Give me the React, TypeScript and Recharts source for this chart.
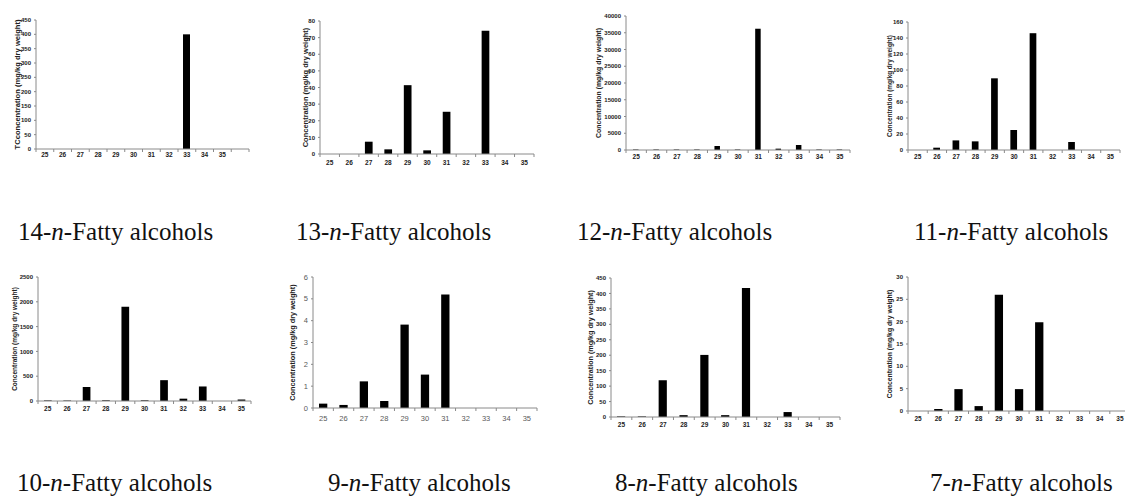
import React from 'react';
import { BarChart, Bar, XAxis, YAxis } from 'recharts';

// chain length (carbon number) on the x axis
const CARBON = ['25', '26', '27', '28', '29', '30', '31', '32', '33', '34', '35'];
const CARBON_14 = [...CARBON, ''];

// concentrations (mg/kg dry weight)
const ALC_14 = [0, 0, 0, 0, 0, 0, 0, 0, 400, 0, 0, 0];
const ALC_13 = [0, 0, 7.4, 2.8, 41.4, 2.2, 25.4, 0, 74.2, 0, 0];
const ALC_12 = [150, 150, 150, 150, 1200, 150, 36200, 400, 1500, 150, 150];
const ALC_11 = [0, 2.9, 12, 10.8, 89.6, 25, 146, 0, 10, 0, 0];
const ALC_10 = [12, 10, 282, 15, 1900, 15, 420, 47, 293, 0, 30];
const ALC_9 = [0.2, 0.14, 1.22, 0.32, 3.82, 1.53, 5.2, 0, 0, 0, 0];
const ALC_8 = [2, 2, 119, 6, 201, 6, 418, 0, 16, 0, 0];
const ALC_7 = [0, 0.45, 4.9, 1.1, 26, 4.9, 19.85, 0, 0, 0, 0];

const TICKS_14 = [0, 50, 100, 150, 200, 250, 300, 350, 400, 450];
const TICKS_13 = [0, 10, 20, 30, 40, 50, 60, 70, 80];
const TICKS_12 = [0, 5000, 10000, 15000, 20000, 25000, 30000, 35000, 40000];
const TICKS_11 = [0, 20, 40, 60, 80, 100, 120, 140, 160];
const TICKS_10 = [0, 500, 1000, 1500, 2000, 2500];
const TICKS_9 = [0, 1, 2, 3, 4, 5, 6];
const TICKS_8 = [0, 50, 100, 150, 200, 250, 300, 350, 400, 450];
const TICKS_7 = [0, 5, 10, 15, 20, 25, 30];

const Y_LABEL = 'Concentration (mg/kg dry weight)';
const Y_LABEL_14 = 'TCconcentration (mg/kg dry weight)';

const AXIS = '#8a8a8a';
const M_TOP = 5;
const X_H = 16;

type Panel = {
  n: string;
  cats: string[];
  vals: number[];
  ticks: number[];
  yLabel: string;
  left: number;
  axisX: number;
  top: number;
  zero: number;
  end: number;
  bar: number;
  labelSize: number;
  xDy: number;
  plain?: boolean;
  capX: number;
  capY: number;
};

const PANELS: Panel[] = [
  { n: '14', cats: CARBON_14, vals: ALC_14, ticks: TICKS_14, yLabel: Y_LABEL_14, left: 12, axisX: 36, top: 20, zero: 149, end: 249, bar: 7, labelSize: 7.6, xDy: 6, capX: 18, capY: 219 },
  { n: '13', cats: CARBON, vals: ALC_13, ticks: TICKS_13, yLabel: Y_LABEL, left: 300, axisX: 320, top: 21, zero: 154, end: 534, bar: 7.7, labelSize: 7.5, xDy: 9, capX: 296, capY: 219 },
  { n: '12', cats: CARBON, vals: ALC_12, ticks: TICKS_12, yLabel: Y_LABEL, left: 594, axisX: 626, top: 16, zero: 150, end: 850, bar: 5.5, labelSize: 6.9, xDy: 7, capX: 577, capY: 219 },
  { n: '11', cats: CARBON, vals: ALC_11, ticks: TICKS_11, yLabel: Y_LABEL, left: 885, axisX: 908, top: 22, zero: 150, end: 1120, bar: 6.7, labelSize: 6.4, xDy: 7, capX: 914, capY: 219 },
  { n: '10', cats: CARBON, vals: ALC_10, ticks: TICKS_10, yLabel: Y_LABEL, left: 10, axisX: 38, top: 277, zero: 401, end: 251, bar: 7.7, labelSize: 6.5, xDy: 7.7, capX: 17, capY: 470 },
  { n: '9', cats: CARBON, vals: ALC_9, ticks: TICKS_9, yLabel: Y_LABEL, left: 287, axisX: 313, top: 277, zero: 408, end: 537, bar: 8.3, labelSize: 7.3, xDy: 10.5, plain: true, capX: 328, capY: 470 },
  { n: '8', cats: CARBON, vals: ALC_8, ticks: TICKS_8, yLabel: Y_LABEL, left: 585, axisX: 611, top: 278, zero: 417, end: 840, bar: 8.2, labelSize: 7.2, xDy: 8, capX: 615, capY: 470 },
  { n: '7', cats: CARBON, vals: ALC_7, ticks: TICKS_7, yLabel: Y_LABEL, left: 885, axisX: 908, top: 277, zero: 411, end: 1130, bar: 8.3, labelSize: 6.8, xDy: 7.7, capX: 930, capY: 470 },
];

const XTick = (props: any) => {
  const { x, y, payload, band, last, plain, dy } = props;
  const fs = plain ? 7.5 : 6.5;
  return (
    <g>
      <line x1={x - band / 2} x2={x - band / 2} y1={y} y2={y + 3} stroke={AXIS} />
      {payload.index === last && <line x1={x + band / 2} x2={x + band / 2} y1={y} y2={y + 3} stroke={AXIS} />}
      <text
        x={x}
        y={y + dy + fs * 0.35}
        textAnchor="middle"
        fontSize={fs}
        fontWeight={plain ? 'normal' : 'bold'}
        fontFamily="Liberation Sans, Arial, sans-serif"
        fill={plain ? '#595959' : '#222'}
      >
        {payload.value}
      </text>
    </g>
  );
};

const SmallChart = ({ p }: { p: Panel }) => {
  const data = p.cats.map((c, i) => ({ c, v: p.vals[i] }));
  const plotW = p.end - p.axisX;
  const yw = p.axisX - p.left;
  const band = plotW / p.cats.length;
  const h = p.zero - p.top + M_TOP + X_H;
  const tickFont = {
    fontSize: p.plain ? 7.5 : 6,
    fontWeight: p.plain ? 'normal' : 'bold',
    fontFamily: 'Liberation Sans, Arial, sans-serif',
    fill: p.plain ? '#595959' : '#222',
  } as const;
  return (
    <div style={{ position: 'absolute', left: p.left, top: p.top - M_TOP }}>
      <BarChart
        width={yw + plotW}
        height={h}
        data={data}
        margin={{ top: M_TOP, right: 0, bottom: 0, left: 0 }}
        barCategoryGap={0}
      >
        <XAxis
          dataKey="c"
          height={X_H}
          interval={0}
          tickSize={0}
          tickMargin={0}
          axisLine={{ stroke: AXIS }}
          tickLine={false}
          tick={<XTick band={band} last={p.cats.length - 1} plain={p.plain} dy={p.xDy} />}
        />
        <YAxis
          width={yw}
          domain={[p.ticks[0], p.ticks[p.ticks.length - 1]]}
          ticks={p.ticks}
          interval={0}
          tickSize={2}
          tickMargin={3}
          axisLine={{ stroke: AXIS }}
          tickLine={{ stroke: AXIS }}
          tick={tickFont}
          label={{
            value: p.yLabel,
            angle: -90,
            position: 'insideLeft',
            style: {
              textAnchor: 'middle',
              fontSize: p.labelSize,
              fontWeight: 'bold',
              fontFamily: 'Liberation Sans, Arial, sans-serif',
              fill: '#222',
            },
          }}
        />
        <Bar dataKey="v" fill="#000" barSize={p.bar} isAnimationActive={false} />
      </BarChart>
    </div>
  );
};

const Caption = ({ p }: { p: Panel }) => (
  <div
    style={{
      position: 'absolute',
      left: p.capX,
      top: p.capY,
      fontFamily: '"Liberation Serif", "Times New Roman", serif',
      fontSize: 25,
      lineHeight: '25px',
      color: '#111',
      whiteSpace: 'nowrap',
    }}
  >
    {p.n}-<i>n</i>-Fatty alcohols
  </div>
);

export default function App() {
  return (
    <div
      style={{
        position: 'absolute',
        left: 0,
        top: 0,
        width: 1125,
        height: 497,
        background: '#fff',
        overflow: 'hidden',
      }}
    >
      <style>{'.recharts-surface{overflow:visible}'}</style>
      {PANELS.map((p) => (
        <React.Fragment key={p.n}>
          <SmallChart p={p} />
          <Caption p={p} />
        </React.Fragment>
      ))}
    </div>
  );
}
